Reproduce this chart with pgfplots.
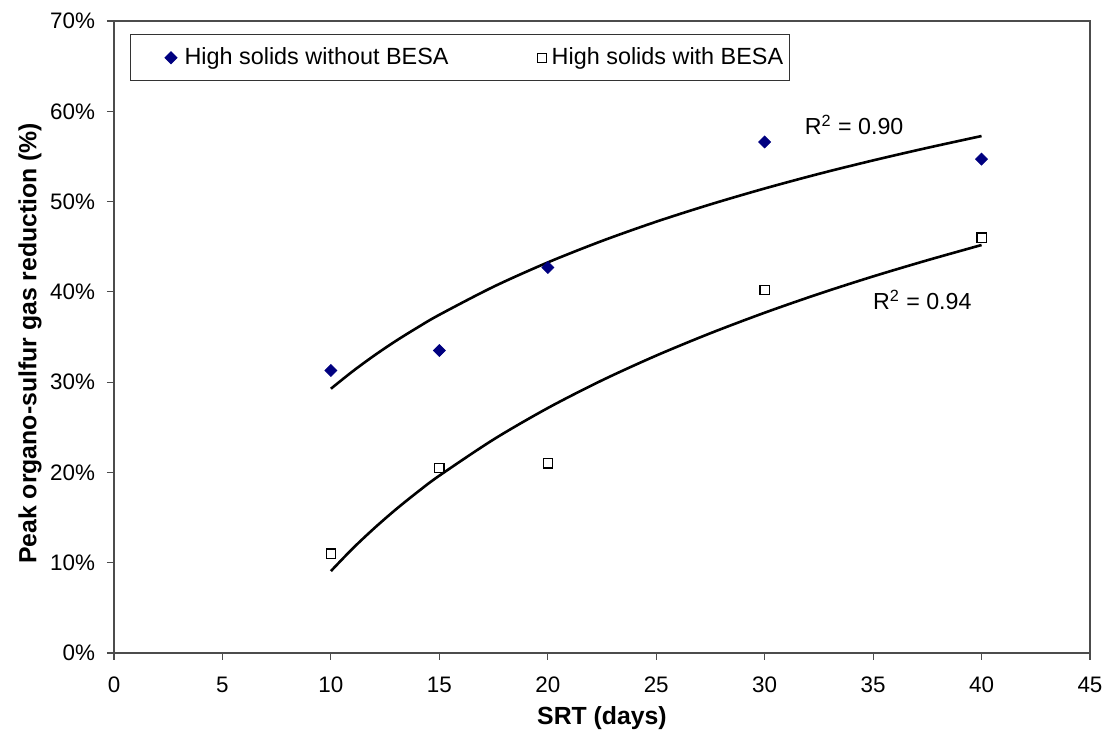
\documentclass[border=0pt]{standalone}
\usepackage{pgfplots}
\pgfplotsset{compat=1.18}
\usepackage{fontspec}
\setmainfont{Liberation Sans}
\definecolor{navyd}{RGB}{0,0,128}
\pgfplotsset{
  legA/.style={legend image code/.code={\path (-19pt,0) (4.5pt,0); \draw[##1] plot coordinates {(0pt,0pt)};}},
  legB/.style={legend image code/.code={\path (-19pt,0) (2.6pt,0); \draw[##1] plot coordinates {(0pt,0pt)};}},
}
\begin{document}
\begin{tikzpicture}
\begin{axis}[
  name=ax,
  at={(0,0)}, anchor=south west,
  scale only axis,
  width=488pt, height=316pt,
  xmin=0, xmax=45, ymin=0, ymax=70,
  xtick={0,5,...,45}, ytick={0,10,...,70},
  yticklabel={\pgfmathprintnumber{\tick}\%},
  /pgf/number format/assume math mode=true,
  tick label style={font=\fontsize{11.2}{13}\selectfont},
  yticklabel style={xshift=-2.5pt},
  xticklabel style={yshift=-5pt},
  tick align=outside, xtick pos=left, ytick pos=left,
  major tick length=3.5pt,
  tick style={black!70, line width=0.6pt},
  axis line style={black!70, line width=0.6pt},
  xlabel={\bfseries SRT (days)},
  ylabel={\bfseries Peak organo-sulfur gas reduction (\%)},
  every axis x label/.style={at={(axis description cs:0.5,0)}, yshift=-32.5pt, anchor=center,
    font=\fontsize{12.4}{14}\selectfont},
  every axis y label/.style={at={(axis description cs:0,0.49)}, xshift=-42pt, rotate=90, anchor=center,
    font=\fontsize{12.4}{14}\selectfont},
  legend columns=2,
  legend style={at={(0.0164,0.979)}, anchor=north west, draw=black!80, line width=0.5pt,
    font=\fontsize{11.7}{14}\selectfont, inner xsep=1pt, inner ysep=4.5pt,
    /tikz/every even column/.append style={column sep=25.5pt}},
  legend cell align=left,
]
\addplot[only marks, mark=square*, mark size=2.1pt, mark options={fill=navyd, draw=navyd, rotate=45}, legA]
  coordinates {(10,31.3) (15,33.5) (20,42.7) (30,56.6) (40,54.7)};
\addlegendentry{High solids without BESA}
\addplot[only marks, mark=square, mark size=2.3pt, mark options={draw=black, fill=white, line width=0.6pt}, legB]
  coordinates {(10,11.0) (15,20.5) (20,21.0) (30,40.2) (40,46.0)};
\addlegendentry{High solids with BESA\hspace{10pt}}
% trend lines (logarithmic)
\addplot[black, line width=1.3pt, smooth, forget plot] coordinates {
 (10,29.27) (11,31.19) (12,32.95) (13,34.57) (14,36.06) (15,37.46) (17.5,40.57) (20,43.26) (22.5,45.64) (25,47.77)
 (27.5,49.69) (30,51.45) (32.5,53.07) (35,54.56) (37.5,55.95) (40,57.26)};
\addplot[black, line width=1.3pt, smooth, forget plot] coordinates {
 (10,9.07) (11,11.56) (12,13.82) (13,15.91) (14,17.84) (15,19.64) (17.5,23.65) (20,27.13) (22.5,30.20) (25,32.94)
 (27.5,35.42) (30,37.69) (32.5,39.78) (35,41.71) (37.5,43.50) (40,45.19)};
\node[anchor=west, inner sep=0pt, font=\fontsize{11.6}{13}\selectfont] at (axis cs:31.84,58.5) {R\textsuperscript{2} = 0.90};
\node[anchor=west, inner sep=0pt, font=\fontsize{11.6}{13}\selectfont] at (axis cs:34.98,39.1) {R\textsuperscript{2} = 0.94};
\end{axis}
\pgfresetboundingbox
\path[use as bounding box] (-57pt,-42.5pt) rectangle (498pt,326.5pt);
\end{tikzpicture}
\end{document}
